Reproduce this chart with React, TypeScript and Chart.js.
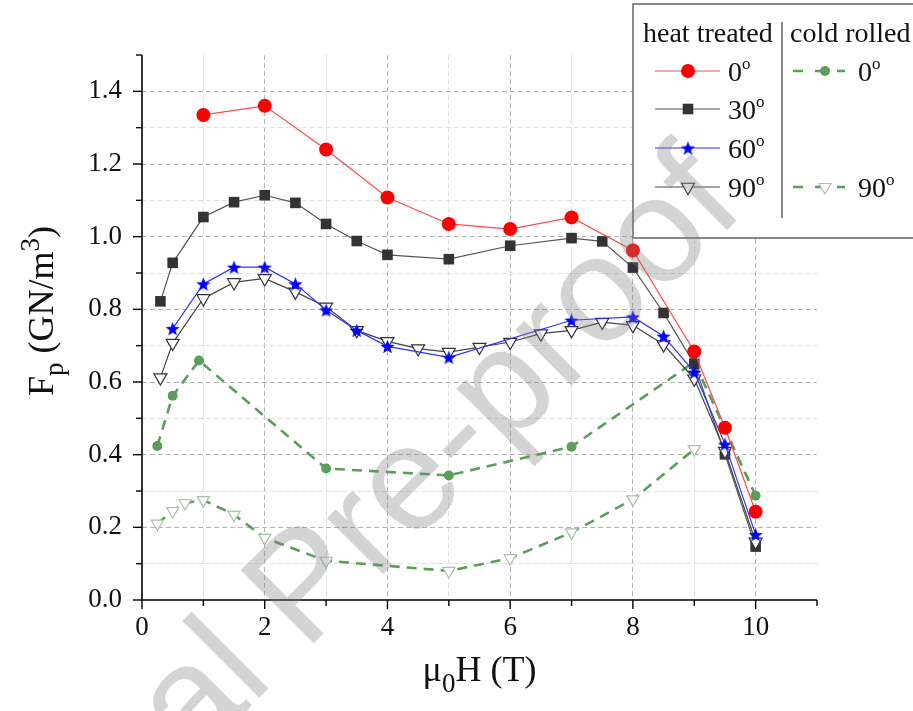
import React, { useEffect, useRef } from 'react';
import { Chart, registerables } from 'chart.js';

Chart.register(...registerables);

const SERIF = '"Liberation Serif", "Times New Roman", serif';
const SANS = '"Liberation Sans", Arial, sans-serif';

// heat treated, 0 deg
const ht0X = [1, 2, 3, 4, 5, 6, 7, 8, 9, 9.5, 10];
const ht0Y = [1.335, 1.36, 1.24, 1.108, 1.035, 1.021, 1.053, 0.962, 0.684, 0.474, 0.243];
// heat treated, 30 deg
const ht30X = [0.3, 0.5, 1, 1.5, 2, 2.5, 3, 3.5, 4, 5, 6, 7, 7.5, 8, 8.5, 9, 9.5, 10];
const ht30Y = [0.822, 0.928, 1.054, 1.095, 1.114, 1.093, 1.035, 0.988, 0.95, 0.938, 0.975, 0.996, 0.987, 0.915, 0.79, 0.65, 0.401, 0.147];
// heat treated, 60 deg
const ht60X = [0.5, 1, 1.5, 2, 2.5, 3, 3.5, 4, 5, 7, 8, 8.5, 9, 9.5, 10];
const ht60Y = [0.747, 0.87, 0.916, 0.916, 0.87, 0.798, 0.742, 0.698, 0.668, 0.77, 0.779, 0.726, 0.627, 0.429, 0.18];
// heat treated, 90 deg
const ht90X = [0.3, 0.5, 1, 1.5, 2, 2.5, 3, 3.5, 4, 4.5, 5, 5.5, 6, 6.5, 7, 7.5, 8, 8.5, 9, 9.5, 10];
const ht90Y = [0.612, 0.707, 0.83, 0.874, 0.885, 0.848, 0.807, 0.742, 0.712, 0.692, 0.682, 0.696, 0.71, 0.733, 0.742, 0.765, 0.756, 0.703, 0.609, 0.41, 0.16];
// cold rolled, 0 deg
const cr0X = [0.25, 0.5, 0.93, 3, 5, 7, 9, 10];
const cr0Y = [0.424, 0.562, 0.659, 0.362, 0.343, 0.422, 0.655, 0.287];
// cold rolled, 90 deg
const cr90X = [0.25, 0.5, 0.7, 1, 1.5, 2, 3, 5, 6, 7, 8, 9];
const cr90Y = [0.21, 0.245, 0.267, 0.275, 0.235, 0.171, 0.108, 0.08, 0.115, 0.186, 0.277, 0.415];

// axis ticks
const xMajor = [0, 2, 4, 6, 8, 10];
const xTickLabels = ['0', '2', '4', '6', '8', '10'];
const yMajor = [0, 0.2, 0.4, 0.6, 0.8, 1.0, 1.2, 1.4];
const yTickLabels = ['0.0', '0.2', '0.4', '0.6', '0.8', '1.0', '1.2', '1.4'];

// legend texts
const htLegendLabels = ['0', '30', '60', '90'];
const crLegendLabels = ['0', '90'];

const RED = '#ff0000';
const DARK = '#333333';
const BLUE = '#0000ff';
const GREEN = '#5a9e5a';
const PALE = '#a9bfa9';

const pts = (xs: number[], ys: number[]) => xs.map((x, i) => ({ x, y: ys[i] }));

function makeStar(r: number, color: string) {
  const c = document.createElement('canvas');
  const s = Math.ceil(r * 2 + 2);
  c.width = s;
  c.height = s;
  const g = c.getContext('2d')!;
  drawStarPath(g, s / 2, s / 2 + r * 0.1, r);
  g.fillStyle = color;
  g.fill();
  return c;
}

function drawStarPath(g: CanvasRenderingContext2D, cx: number, cy: number, r: number) {
  const inner = r * 0.42;
  g.beginPath();
  for (let i = 0; i < 10; i++) {
    const rr = i % 2 === 0 ? r : inner;
    const a = -Math.PI / 2 + (i * Math.PI) / 5;
    const px = cx + rr * Math.cos(a);
    const py = cy + rr * Math.sin(a);
    if (i === 0) g.moveTo(px, py);
    else g.lineTo(px, py);
  }
  g.closePath();
}

type Run = { t: string; size: number; dy?: number };

function runsWidth(ctx: CanvasRenderingContext2D, runs: Run[]) {
  let w = 0;
  for (const r of runs) {
    ctx.font = `${r.size}px ${SERIF}`;
    w += ctx.measureText(r.t).width;
  }
  return w;
}

function drawRuns(ctx: CanvasRenderingContext2D, runs: Run[], x: number, y: number) {
  let cx = x;
  for (const r of runs) {
    ctx.font = `${r.size}px ${SERIF}`;
    ctx.fillText(r.t, cx, y + (r.dy || 0));
    cx += ctx.measureText(r.t).width;
  }
}

function legendMarker(
  ctx: CanvasRenderingContext2D,
  kind: string,
  x: number,
  y: number,
  fill: string,
  stroke: string,
  r: number,
  star?: HTMLCanvasElement
) {
  ctx.save();
  ctx.fillStyle = fill;
  ctx.strokeStyle = stroke;
  ctx.lineWidth = 1.2;
  ctx.setLineDash([]);
  if (kind === 'circle') {
    ctx.beginPath();
    ctx.arc(x, y, r, 0, Math.PI * 2);
    ctx.fill();
  } else if (kind === 'square') {
    const s = r * Math.SQRT1_2;
    ctx.fillRect(x - s, y - s, 2 * s, 2 * s);
  } else if (kind === 'tri') {
    ctx.beginPath();
    ctx.moveTo(x, y + r);
    ctx.lineTo(x - r * 0.866, y - r * 0.5);
    ctx.lineTo(x + r * 0.866, y - r * 0.5);
    ctx.closePath();
    ctx.fill();
    ctx.stroke();
  } else if (kind === 'star' && star) {
    ctx.drawImage(star, x - star.width / 2, y - star.height / 2);
  }
  ctx.restore();
}

export default function App() {
  const ref = useRef<HTMLCanvasElement>(null);

  useEffect(() => {
    const canvas = ref.current;
    if (!canvas) return;
    const star = makeStar(7.5, BLUE);

    const decorations = {
      id: 'decorations',
      afterDraw(chart: any) {
        const { ctx, chartArea: a, scales } = chart;
        const xs = scales.x;
        const ys = scales.y;
        ctx.save();

        // axes
        ctx.strokeStyle = '#000';
        ctx.lineWidth = 1.6;
        ctx.setLineDash([]);
        ctx.beginPath();
        ctx.moveTo(a.left, a.top);
        ctx.lineTo(a.left, a.bottom);
        ctx.lineTo(a.right, a.bottom);
        ctx.stroke();

        // tick marks, major and minor
        ctx.lineWidth = 1.4;
        for (let i = 0; i <= 11; i++) {
          const px = xs.getPixelForValue(i);
          const len = i % 2 === 0 ? 9 : 6;
          ctx.beginPath();
          ctx.moveTo(px, a.bottom);
          ctx.lineTo(px, a.bottom + len);
          ctx.stroke();
        }
        for (let j = 0; j <= 15; j++) {
          const py = ys.getPixelForValue(j / 10);
          const len = j % 2 === 0 ? 9 : 6;
          ctx.beginPath();
          ctx.moveTo(a.left - len, py);
          ctx.lineTo(a.left, py);
          ctx.stroke();
        }

        // axis titles
        ctx.fillStyle = '#111';
        ctx.textBaseline = 'alphabetic';
        ctx.textAlign = 'left';
        const xTitle: Run[] = [
          { t: 'μ', size: 36 },
          { t: '0', size: 27, dy: 11 },
          { t: 'H (T)', size: 36 },
        ];
        const xw = runsWidth(ctx, xTitle);
        drawRuns(ctx, xTitle, (a.left + a.right) / 2 - xw / 2, 681);

        const yTitle: Run[] = [
          { t: 'F', size: 36 },
          { t: 'p', size: 27, dy: 10 },
          { t: ' (GN/m', size: 36 },
          { t: '3', size: 27, dy: -14 },
          { t: ')', size: 36 },
        ];
        const yw = runsWidth(ctx, yTitle);
        ctx.save();
        ctx.translate(53, 311);
        ctx.rotate(-Math.PI / 2);
        drawRuns(ctx, yTitle, -yw / 2, 0);
        ctx.restore();

        // legend box
        ctx.fillStyle = '#fff';
        ctx.fillRect(633, 4, 290, 234);
        ctx.strokeStyle = '#8a8a8a';
        ctx.lineWidth = 2;
        ctx.strokeRect(633, 4, 290, 234);
        ctx.strokeStyle = '#555';
        ctx.lineWidth = 1.4;
        ctx.beginPath();
        ctx.moveTo(782, 22);
        ctx.lineTo(782, 218);
        ctx.stroke();

        ctx.fillStyle = '#111';
        ctx.font = `28px ${SERIF}`;
        ctx.fillText('heat treated', 643, 42);
        ctx.fillText('cold rolled', 790, 42);

        const rowsY = [71, 109, 148, 187];
        const htStyle = [
          { kind: 'circle', fill: RED, stroke: RED, line: '#ff4a4a', r: 7 },
          { kind: 'square', fill: DARK, stroke: DARK, line: '#555', r: 7.5 },
          { kind: 'star', fill: BLUE, stroke: BLUE, line: '#3030ff', r: 7 },
          { kind: 'tri', fill: '#fff', stroke: '#333', line: '#444', r: 7.5 },
        ];
        const degree = (label: string, x: number, y: number) => {
          drawRuns(ctx, [
            { t: label, size: 28 },
            { t: 'o', size: 17, dy: -12 },
          ], x, y);
        };
        htStyle.forEach((s, i) => {
          const y = rowsY[i];
          ctx.strokeStyle = s.line;
          ctx.lineWidth = 1.2;
          ctx.setLineDash([]);
          ctx.beginPath();
          ctx.moveTo(655, y);
          ctx.lineTo(720, y);
          ctx.stroke();
          legendMarker(ctx, s.kind, 688, y, s.fill, s.stroke, s.r, star);
          ctx.fillStyle = '#111';
          degree(htLegendLabels[i], 728, y + 10);
        });

        const crStyle = [
          { kind: 'circle', fill: GREEN, stroke: GREEN, y: rowsY[0], r: 5 },
          { kind: 'tri', fill: '#fff', stroke: PALE, y: rowsY[3], r: 7 },
        ];
        crStyle.forEach((s, i) => {
          ctx.strokeStyle = GREEN;
          ctx.lineWidth = 2.6;
          ctx.setLineDash([10, 12]);
          ctx.beginPath();
          ctx.moveTo(793, s.y);
          ctx.lineTo(845, s.y);
          ctx.stroke();
          ctx.setLineDash([]);
          legendMarker(ctx, s.kind, 825, s.y, s.fill, s.stroke, s.r);
          ctx.fillStyle = '#111';
          degree(crLegendLabels[i], 858, s.y + 10);
        });

        // diagonal watermark
        ctx.save();
        ctx.translate(305, 652);
        ctx.rotate(-Math.PI / 4);
        ctx.font = `150px ${SANS}`;
        ctx.fillStyle = 'rgba(128,128,128,0.34)';
        ctx.textAlign = 'left';
        ctx.fillText('Pre-proof', 0, 0);
        ctx.textAlign = 'right';
        ctx.fillText('Journal ', 0, 0);
        ctx.restore();

        ctx.restore();
      },
    };

    const heatLine = (color: string) => ({ borderColor: color, borderWidth: 1.2 });
    const coldLine = { borderColor: GREEN, borderWidth: 2.6, borderDash: [10, 7] };

    const chart = new Chart(canvas, {
      type: 'line',
      data: {
        datasets: [
          {
            label: 'heat treated 0',
            data: pts(ht0X, ht0Y),
            ...heatLine('#ff4a4a'),
            pointStyle: 'circle',
            pointRadius: 7,
            pointBackgroundColor: RED,
            pointBorderColor: RED,
            pointBorderWidth: 0,
          },
          {
            label: 'heat treated 60',
            data: pts(ht60X, ht60Y),
            ...heatLine('#3030ff'),
            pointStyle: star,
            pointRadius: 7,
          },
          {
            label: 'heat treated 90',
            data: pts(ht90X, ht90Y),
            ...heatLine('#444'),
            pointStyle: 'triangle',
            pointRotation: 180,
            pointRadius: 7.5,
            pointBackgroundColor: '#fff',
            pointBorderColor: '#333',
            pointBorderWidth: 1.2,
          },
          {
            label: 'heat treated 30',
            data: pts(ht30X, ht30Y),
            ...heatLine('#555'),
            pointStyle: 'rect',
            pointRadius: 7.5,
            pointBackgroundColor: DARK,
            pointBorderColor: DARK,
            pointBorderWidth: 0,
          },
          {
            label: 'cold rolled 0',
            data: pts(cr0X, cr0Y),
            ...coldLine,
            pointStyle: 'circle',
            pointRadius: 5,
            pointBackgroundColor: GREEN,
            pointBorderColor: GREEN,
            pointBorderWidth: 0,
          },
          {
            label: 'cold rolled 90',
            data: pts(cr90X, cr90Y),
            ...coldLine,
            pointStyle: 'triangle',
            pointRotation: 180,
            pointRadius: 7,
            pointBackgroundColor: '#fff',
            pointBorderColor: PALE,
            pointBorderWidth: 1.2,
          },
        ],
      },
      options: {
        responsive: false,
        animation: false,
        events: [],
        layout: { padding: { top: 55, right: 96, left: 0, bottom: 0 } },
        plugins: { legend: { display: false }, tooltip: { enabled: false } },
        scales: {
          x: {
            type: 'linear',
            min: 0,
            max: 11,
            afterFit: (s: any) => {
              s.height = 111;
            },
            ticks: {
              stepSize: 1,
              autoSkip: false,
              maxRotation: 0,
              padding: 12,
              color: '#111',
              font: { family: SERIF, size: 27 },
              callback: (v: any) => {
                const i = xMajor.indexOf(Number(v));
                if (i >= 0) return xTickLabels[i];
                return Number(v) >= 11 ? null : '';
              },
            },
            grid: {
              drawTicks: false,
              lineWidth: 1,
              color: (c: any) => {
                const v = c.tick ? c.tick.value : 0;
                if (v <= 0 || v >= 11) return 'rgba(0,0,0,0)';
                return v % 2 === 0 ? '#b4b4b4' : '#e0e0e0';
              },
            },
            border: { display: false, dash: [5, 3] },
          },
          y: {
            type: 'linear',
            min: 0,
            max: 1.5,
            afterFit: (s: any) => {
              s.width = 142;
            },
            ticks: {
              stepSize: 0.1,
              autoSkip: false,
              padding: 20,
              color: '#111',
              font: { family: SERIF, size: 27 },
              callback: (v: any) => {
                const n = Number(v);
                const i = yMajor.findIndex((m) => Math.abs(m - n) < 1e-6);
                if (i >= 0) return yTickLabels[i];
                return n > 1.45 ? null : '';
              },
            },
            grid: {
              drawTicks: false,
              lineWidth: 1,
              color: (c: any) => {
                const v = c.tick ? c.tick.value : 0;
                if (v <= 1e-6 || v > 1.45) return 'rgba(0,0,0,0)';
                const k = Math.round(v * 10);
                return k % 2 === 0 ? '#b4b4b4' : '#e0e0e0';
              },
            },
            border: { display: false, dash: [5, 3] },
          },
        },
      },
      plugins: [decorations],
    });

    return () => chart.destroy();
  }, []);

  return (
    <div style={{ position: 'fixed', left: 0, top: 0, width: 913, height: 711, background: '#fff' }}>
      <canvas ref={ref} width={913} height={711} style={{ display: 'block' }} />
    </div>
  );
}
